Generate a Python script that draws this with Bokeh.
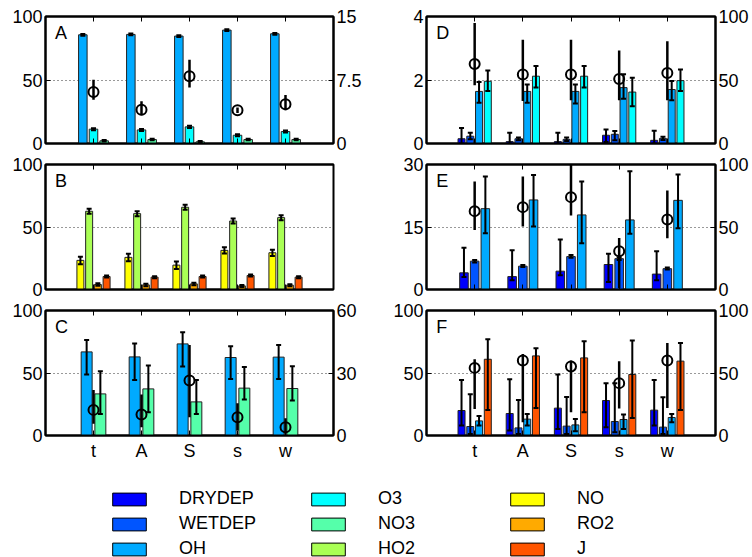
import numpy as np
from bokeh.plotting import figure
from bokeh.models import Range1d, LinearAxis, FixedTicker, Label, Legend, LegendItem
from bokeh.layouts import column, row
from bokeh.embed import file_html
from bokeh.resources import INLINE

categories = ["t", "A", "S", "s", "w"]

# ---- Panel A (left axis 0-100, right axis 0-15) ----
A_OH = [85.6, 85.9, 84.6, 89.3, 86.4]
A_OH_err = [0.7, 0.7, 0.7, 0.7, 0.7]
A_O3 = [11.3, 10.7, 13.1, 6.5, 9.4]
A_O3_err = [0.8, 0.8, 0.8, 0.8, 0.8]
A_NO3 = [2.1, 3.1, 1.3, 3.1, 3.1]
A_NO3_err = [0.6, 0.6, 0.6, 0.6, 0.6]
A_circ = [6.09, 4.0, 7.93, 3.93, 4.63]
A_circ_lo = [5.18, 3.34, 6.6, 3.6, 3.93]
A_circ_hi = [7.54, 4.99, 9.9, 4.24, 5.73]

# ---- Panel B (0-100) ----
B_NO = [23.3, 25.7, 19.5, 31.3, 29.4]
B_NO_err = [3.0, 3.0, 3.0, 2.5, 2.5]
B_HO2 = [62.6, 60.7, 65.8, 54.8, 57.5]
B_HO2_err = [2.0, 2.0, 2.0, 2.0, 2.0]
B_RO2 = [4.0, 3.7, 4.5, 2.9, 3.5]
B_RO2_err = [1.0, 1.0, 1.0, 0.8, 0.8]
B_J = [10.4, 9.9, 10.4, 11.2, 9.9]
B_J_err = [0.8, 0.8, 0.8, 0.8, 0.8]

# ---- Panel C (left 0-100, right 0-60) ----
C_OH = [66.9, 62.9, 73.3, 62.4, 62.7]
C_OH_lo = [48.8, 44.5, 55.2, 45.3, 45.3]
C_OH_hi = [76.5, 73.6, 82.7, 71.5, 72.5]
C_NO3 = [33.3, 37.3, 26.9, 37.9, 37.6]
C_NO3_lo = [17.3, 18.7, 17.3, 28.8, 28.0]
C_NO3_hi = [51.5, 56.0, 44.5, 54.9, 55.5]
C_circ = [12.3, 10.1, 26.4, 8.8, 4.0]
C_circ_lo = [5.6, 4.0, 8.8, 2.4, 0.8]
C_circ_hi = [21.9, 19.7, 43.5, 15.5, 8.3]

# ---- Panel D (left 0-4, right 0-100) ----
D_DRY = [0.15, 0.06, 0.06, 0.26, 0.10]
D_DRY_lo = [0.0, 0.0, 0.0, 0.05, 0.0]
D_DRY_hi = [0.49, 0.34, 0.34, 0.44, 0.40]
D_WET = [0.23, 0.15, 0.13, 0.29, 0.16]
D_WET_lo = [0.13, 0.10, 0.08, 0.10, 0.11]
D_WET_hi = [0.34, 0.19, 0.19, 0.39, 0.21]
D_OH = [1.64, 1.64, 1.64, 1.76, 1.70]
D_OH_lo = [1.28, 1.28, 1.26, 1.41, 1.36]
D_OH_hi = [1.94, 1.86, 1.86, 2.18, 1.97]
D_O3 = [1.96, 2.12, 2.12, 1.62, 1.98]
D_O3_lo = [1.65, 1.76, 1.76, 1.17, 1.65]
D_O3_hi = [2.30, 2.44, 2.44, 2.07, 2.33]
D_circ = [62.6, 54.4, 54.4, 50.8, 55.5]
D_circ_lo = [45.8, 33.5, 34.0, 34.0, 34.0]
D_circ_hi = [94.8, 81.7, 81.7, 73.3, 80.6]

# ---- Panel E (left 0-30, right 0-100) ----
E_DRY = [4.0, 3.1, 4.4, 6.0, 3.7]
E_DRY_lo = [3.0, 2.2, 3.4, 1.8, 2.2]
E_DRY_hi = [10.0, 9.4, 12.0, 8.6, 9.2]
E_WET = [6.8, 5.6, 7.9, 7.4, 5.0]
E_WET_lo = [6.5, 5.4, 7.6, 7.1, 4.8]
E_WET_hi = [7.1, 5.9, 8.3, 7.7, 5.3]
E_OH = [19.4, 21.5, 17.9, 16.7, 21.4]
E_OH_lo = [13.5, 15.1, 11.1, 13.4, 14.7]
E_OH_hi = [27.1, 27.5, 25.9, 28.4, 27.6]
E_circ = [62.7, 65.9, 73.9, 30.6, 56.0]
E_circ_lo = [47.7, 50.4, 59.2, 1.0, 41.1]
E_circ_hi = [86.4, 90.4, 100.0, 41.3, 79.2]

# ---- Panel F (left 0-100, right 0-100) ----
F_DRY = [20.0, 17.6, 21.9, 28.0, 20.3]
F_DRY_lo = [8.0, 4.0, 5.3, 6.7, 8.0]
F_DRY_hi = [44.5, 45.0, 48.8, 41.9, 44.5]
F_WET = [7.2, 6.1, 7.5, 11.2, 6.7]
F_WET_lo = [1.3, 1.3, 1.3, 2.7, 1.3]
F_WET_hi = [33.0, 28.5, 30.9, 41.9, 30.7]
F_OH = [11.7, 13.1, 8.5, 12.8, 14.4]
F_OH_lo = [8.0, 8.0, 3.5, 5.3, 10.7]
F_OH_hi = [15.7, 17.3, 13.3, 16.9, 17.3]
F_J = [61.0, 63.7, 62.1, 48.8, 59.5]
F_J_lo = [20.5, 22.1, 18.7, 14.1, 20.5]
F_J_hi = [77.0, 69.9, 75.5, 76.0, 74.1]
F_circ = [54.1, 60.0, 55.2, 41.9, 60.0]
F_circ_lo = [21.3, 10.7, 18.7, 21.6, 22.1]
F_circ_hi = [61.0, 65.3, 60.0, 59.5, 74.1]

series_names = ["DRYDEP", "WETDEP", "OH", "O3", "NO3", "HO2", "NO", "RO2", "J"]
series_colors = ["#0000FF", "#0055FF", "#00AAFF", "#00FFFF", "#55FFAA",
                 "#AAFF55", "#FFFF00", "#FFAA00", "#FF5500"]
COLORS = dict(zip(series_names, series_colors))

FONT = "Liberation Sans"
FS = "18px"


def sym(vals, err):
    v = np.array(vals, float)
    e = np.array(err, float)
    return (list(v - e), list(v + e))


def style_axis(ax, labels=True, standoff=3):
    ax.axis_line_width = 2
    ax.axis_line_color = "black"
    ax.major_tick_in = 5
    ax.major_tick_out = 0
    ax.major_tick_line_color = "black"
    ax.major_tick_line_width = 1
    ax.minor_tick_line_color = None
    ax.major_label_text_font = FONT
    if labels:
        ax.major_label_text_font_size = FS
        ax.major_label_text_color = "black"
        ax.major_label_standoff = standoff
    else:
        ax.major_label_text_font_size = "1px"
        ax.major_label_text_color = None
        ax.major_label_standoff = 0


def make_panel(letter, bars, lmax, lticks, rmax, rticks, circle,
               w, h, bl, br, bt, bb, xlabels):
    p = figure(width=w, height=h, x_range=Range1d(0, 6), y_range=Range1d(0, lmax),
               output_backend="svg", toolbar_location=None,
               min_border_left=bl, min_border_right=br,
               min_border_top=bt, min_border_bottom=bb)
    p.outline_line_color = "black"
    p.outline_line_width = 2
    xs = np.arange(1, len(categories) + 1)
    xt = [int(v) for v in xs]
    p.xaxis.ticker = FixedTicker(ticks=xt)
    p.xaxis.major_label_overrides = {v: c for v, c in zip(xt, categories)}
    style_axis(p.xaxis[0], xlabels, standoff=5)
    p.yaxis.ticker = FixedTicker(ticks=lticks)
    p.yaxis.major_label_overrides = {t: f"{t:g}" for t in lticks}
    style_axis(p.yaxis[0])
    p.xgrid.visible = False
    p.ygrid.ticker = FixedTicker(ticks=lticks)
    p.ygrid.grid_line_color = "black"
    p.ygrid.grid_line_dash = "1 3"
    p.ygrid.grid_line_alpha = 0.8
    top = LinearAxis(ticker=FixedTicker(ticks=xt))
    style_axis(top, False)
    p.add_layout(top, "above")
    if rmax is not None:
        p.extra_y_ranges = {"r": Range1d(0, rmax)}
        ax = LinearAxis(y_range_name="r", ticker=FixedTicker(ticks=rticks))
        style_axis(ax)
        ax.major_label_overrides = {t: f"{t:g}" for t in rticks}
        p.add_layout(ax, "right")

    n = len(bars)
    gw = min(0.8, n / (n + 1.5))
    step = gw / n
    bw = 0.8 * step
    xpos = []
    for i, (name, vals, lo, hi) in enumerate(bars):
        off = (i - (n - 1) / 2) * step
        x = xs + off
        xpos.append(x)
        p.vbar(x=x, top=vals, width=bw, bottom=0, fill_color=COLORS[name],
               line_color="#222222", line_width=1)
    for (name, vals, lo, hi), x in zip(bars, xpos):
        p.segment(x0=x, y0=lo, x1=x, y1=hi, line_color="black", line_width=2)
        p.scatter(x=np.concatenate([x, x]), y=list(lo) + list(hi), marker="dash",
                  size=5, line_color="black", line_width=2)
    if circle is not None:
        vals, lo, hi = circle
        p.segment(x0=xs, y0=lo, x1=xs, y1=hi, line_color="black", line_width=2.5,
                  y_range_name="r")
        p.scatter(x=xs, y=vals, marker="circle", size=10, fill_color=None,
                  line_color="black", line_width=2, y_range_name="r")
    fh = h - bt - bb
    p.add_layout(Label(x=0.2, y=lmax * (1 - 6.0 / fh), text=letter,
                       text_font=FONT, text_font_size=FS, text_baseline="top",
                       text_align="left", text_color="black"))
    return p


LW, RW = 378, 374
LB = dict(bl=45, br=45)
RB = dict(bl=48, br=37)

pA = make_panel("A", [("OH", A_OH, *sym(A_OH, A_OH_err)),
                      ("O3", A_O3, *sym(A_O3, A_O3_err)),
                      ("NO3", A_NO3, *sym(A_NO3, A_NO3_err))],
                100, [0, 50, 100], 15, [0, 7.5, 15], (A_circ, A_circ_lo, A_circ_hi),
                LW, 154, bt=16, bb=11, xlabels=False, **LB)
pB = make_panel("B", [("NO", B_NO, *sym(B_NO, B_NO_err)),
                      ("HO2", B_HO2, *sym(B_HO2, B_HO2_err)),
                      ("RO2", B_RO2, *sym(B_RO2, B_RO2_err)),
                      ("J", B_J, *sym(B_J, B_J_err))],
                100, [0, 50, 100], None, None, None,
                LW, 146, bt=10, bb=11, xlabels=False, **LB)
pC = make_panel("C", [("OH", C_OH, C_OH_lo, C_OH_hi),
                      ("NO3", C_NO3, C_NO3_lo, C_NO3_hi)],
                100, [0, 50, 100], 60, [0, 30, 60], (C_circ, C_circ_lo, C_circ_hi),
                LW, 165, bt=10, bb=30, xlabels=True, **LB)
pD = make_panel("D", [("DRYDEP", D_DRY, D_DRY_lo, D_DRY_hi),
                      ("WETDEP", D_WET, D_WET_lo, D_WET_hi),
                      ("OH", D_OH, D_OH_lo, D_OH_hi),
                      ("O3", D_O3, D_O3_lo, D_O3_hi)],
                4, [0, 2, 4], 100, [0, 50, 100], (D_circ, D_circ_lo, D_circ_hi),
                RW, 154, bt=16, bb=11, xlabels=False, **RB)
pE = make_panel("E", [("DRYDEP", E_DRY, E_DRY_lo, E_DRY_hi),
                      ("WETDEP", E_WET, E_WET_lo, E_WET_hi),
                      ("OH", E_OH, E_OH_lo, E_OH_hi)],
                30, [0, 15, 30], 100, [0, 50, 100], (E_circ, E_circ_lo, E_circ_hi),
                RW, 146, bt=10, bb=11, xlabels=False, **RB)
pF = make_panel("F", [("DRYDEP", F_DRY, F_DRY_lo, F_DRY_hi),
                      ("WETDEP", F_WET, F_WET_lo, F_WET_hi),
                      ("OH", F_OH, F_OH_lo, F_OH_hi),
                      ("J", F_J, F_J_lo, F_J_hi)],
                100, [0, 50, 100], 100, [0, 50, 100], (F_circ, F_circ_lo, F_circ_hi),
                RW, 165, bt=10, bb=30, xlabels=True, **RB)

# ---- Legend ----
pl = figure(width=752, height=92, x_axis_type=None, y_axis_type=None,
            x_range=Range1d(0, 1), y_range=Range1d(0, 1),
            toolbar_location=None, output_backend="svg", min_border=0)
pl.outline_line_color = None
pl.xgrid.visible = False
pl.ygrid.visible = False
items = []
for name, col in zip(series_names, series_colors):
    r = pl.vbar(x=[-5], top=[-5], bottom=[-6], width=0.1, fill_color=col,
                line_color="black", line_width=1)
    items.append(LegendItem(label=name, renderers=[r]))
leg = Legend(items=items, orientation="vertical", ncols=3, location=(108, -2),
             glyph_width=42, glyph_height=16, label_standoff=29, label_width=124,
             label_height=20, spacing=4, padding=0, margin=0,
             border_line_color=None, background_fill_alpha=0,
             label_text_font=FONT, label_text_font_size=FS,
             label_text_color="black")
pl.add_layout(leg, "center")

layout = column(row(pA, pD), row(pB, pE), row(pC, pF), pl)
open("out.html", "w").write(file_html(layout, INLINE))
